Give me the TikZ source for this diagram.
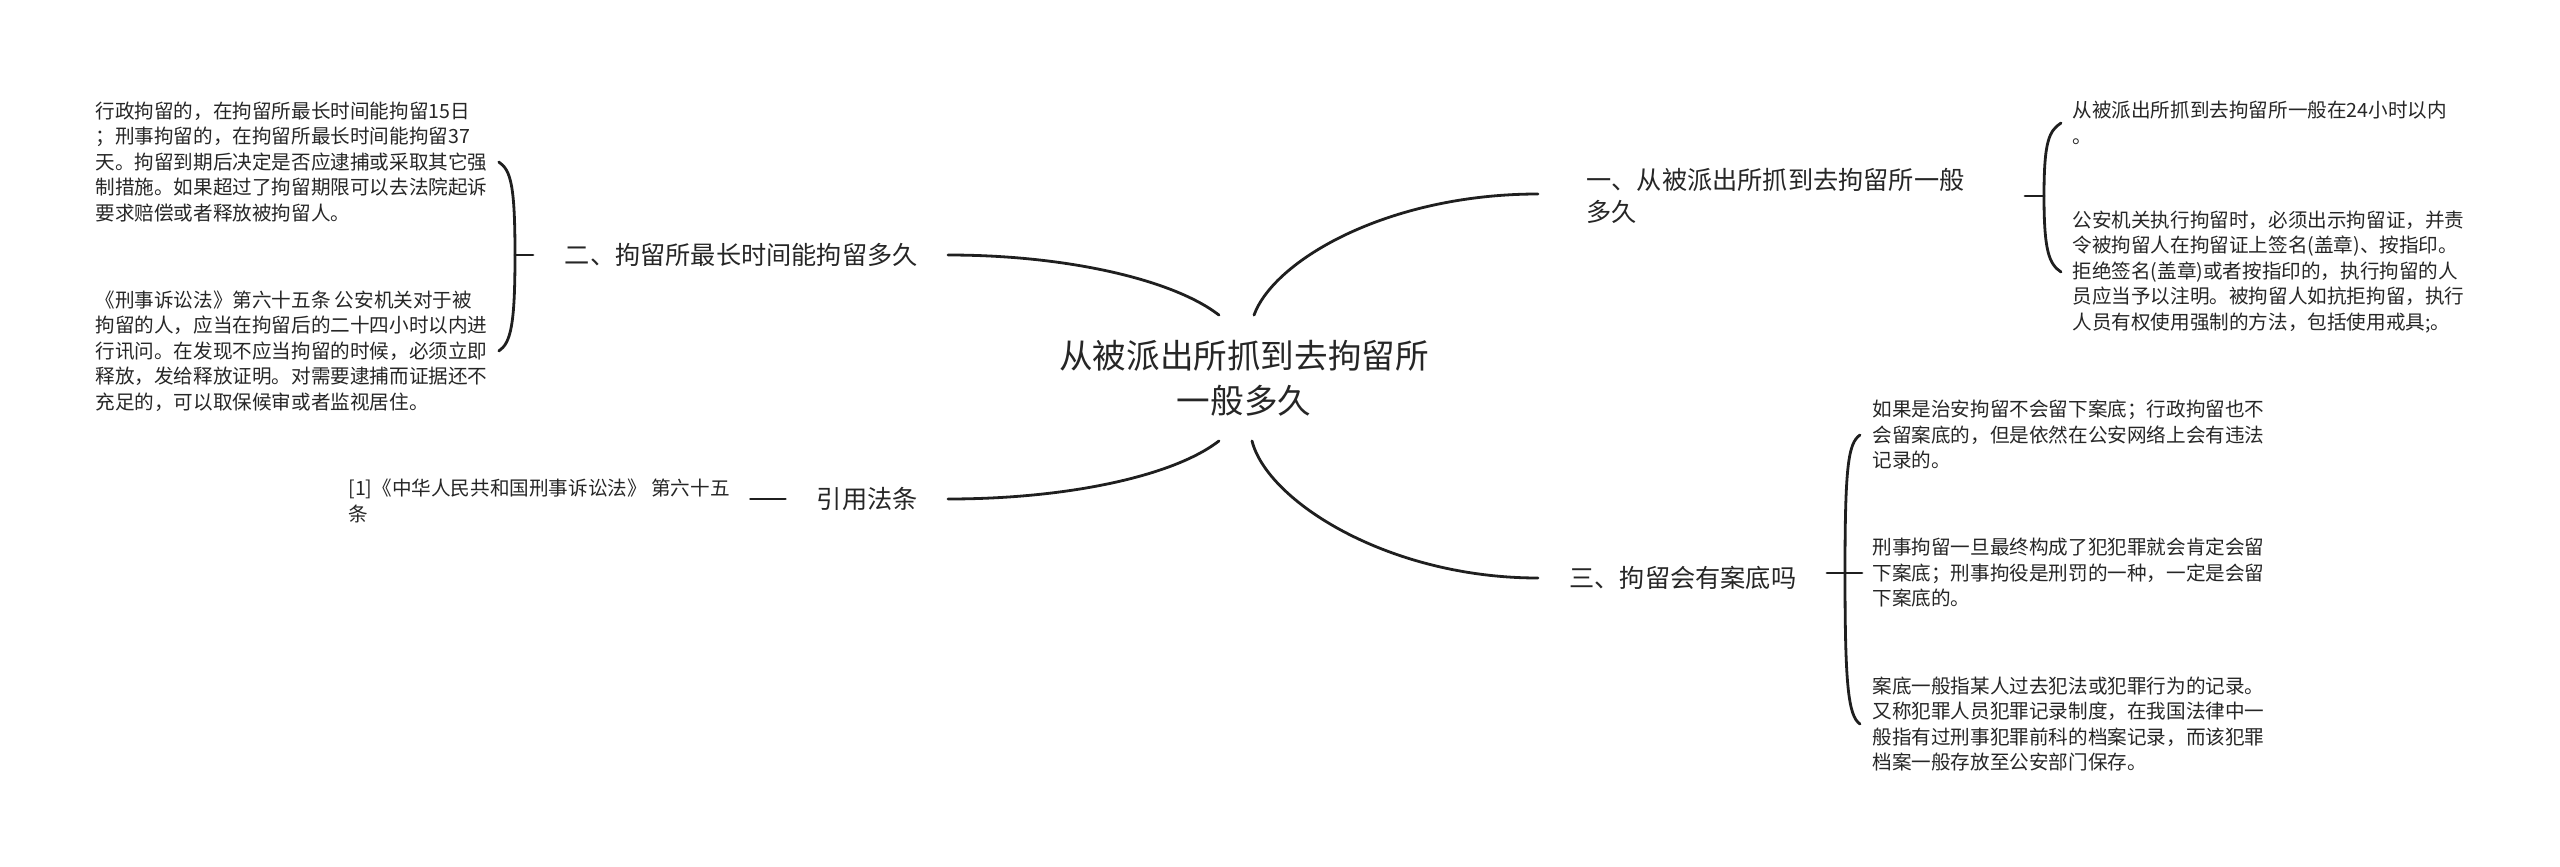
\documentclass[tikz,border=0pt]{standalone}
\usepackage{fontspec}
\setmainfont{Noto Sans CJK SC}
\tikzstyle{rootnode} = [inner sep=0pt, minimum height=62.5pt, align=center, text=black!85, font=\fontsize{16.8pt}{22.5pt}\selectfont]
\tikzstyle{topic} = [inner sep=0pt, align=left, text=black!85, font=\fontsize{12.6pt}{16pt}\selectfont]
\tikzstyle{detail} = [inner sep=0pt, align=left, text=black!85, font=\fontsize{9.8pt}{12.75pt}\selectfont]
\tikzstyle{link} = [line width=1.4pt, draw=black!88, line cap=round]

\begin{document}
\begin{tikzpicture}[x=0.5pt, y=-0.5pt]
\useasboundingbox (0,0) rectangle (2560,867);

\node (root) [rootnode] at (1244,378) {从被派出所抓到去拘留所\\一般多久};

\coordinate (e1) at (1538,194);
\coordinate (e2) at (948,255);
\coordinate (e3) at (1538,578);
\coordinate (e4) at (948,499);

\node (br1) [topic, anchor=west] at ([xshift=24pt,yshift=-1pt]e1) {一、从被派出所抓到去拘留所一般\\多久};
\node (br2) [topic, anchor=east] at ([xshift=-15pt]e2) {二、拘留所最长时间能拘留多久};
\node (br3) [topic, anchor=west] at ([xshift=15.5pt]e3) {三、拘留会有案底吗};
\node (br4) [topic, anchor=east] at ([xshift=-15pt]e4) {引用法条};

\node (lf1a) [detail, anchor=west] at (2072,123) {从被派出所抓到去拘留所一般在24小时以内\\。};
\node (lf1b) [detail, anchor=west] at (2072,272) {公安机关执行拘留时，必须出示拘留证，并责\\令被拘留人在拘留证上签名(盖章)、按指印。\\拒绝签名(盖章)或者按指印的，执行拘留的人\\员应当予以注明。被拘留人如抗拒拘留，执行\\人员有权使用强制的方法，包括使用戒具;。};
\node (lf2a) [detail, anchor=west] at (95,162) {行政拘留的，在拘留所最长时间能拘留15日\\；刑事拘留的，在拘留所最长时间能拘留37\\天。拘留到期后决定是否应逮捕或采取其它强\\制措施。如果超过了拘留期限可以去法院起诉\\要求赔偿或者释放被拘留人。};
\node (lf2b) [detail, anchor=west] at (95,351) {《刑事诉讼法》第六十五条 公安机关对于被\\拘留的人，应当在拘留后的二十四小时以内进\\行讯问。在发现不应当拘留的时候，必须立即\\释放，发给释放证明。对需要逮捕而证据还不\\充足的，可以取保候审或者监视居住。};
\node (lf3a) [detail, anchor=west] at (1872,435) {如果是治安拘留不会留下案底；行政拘留也不\\会留案底的，但是依然在公安网络上会有违法\\记录的。};
\node (lf3b) [detail, anchor=west] at (1872,573) {刑事拘留一旦最终构成了犯犯罪就会肯定会留\\下案底；刑事拘役是刑罚的一种，一定是会留\\下案底的。};
\node (lf3c) [detail, anchor=west] at (1872,724) {案底一般指某人过去犯法或犯罪行为的记录。\\又称犯罪人员犯罪记录制度，在我国法律中一\\般指有过刑事犯罪前科的档案记录，而该犯罪\\档案一般存放至公安部门保存。};
\node (lf4) [detail, anchor=west] at (348,501) {[1]《中华人民共和国刑事诉讼法》 第六十五\\条};

\draw [link] ([xshift=5pt]root.north) .. controls +(20,-55) and +(-150,0) .. (e1);
\draw [link] ([xshift=-12.5pt]root.north) .. controls +(-45,-35) and +(120,0) .. (e2);
\draw [link] ([xshift=4pt]root.south) .. controls +(15,60) and +(-150,0) .. (e3);
\draw [link] ([xshift=-12.5pt]root.south) .. controls +(-45,35) and +(120,0) .. (e4);

\coordinate (m1) at (2044,196);
\coordinate (m2) at (515,255);
\coordinate (m3) at (1845,573);

\draw [link] (m1) -- ++(-19,0);
\draw [link] ([xshift=-5.5pt]lf1a.west) .. controls +(-12,8) and +(0,-55) .. (m1) .. controls +(0,55) and +(-12,-8) .. ([xshift=-5.5pt]lf1b.west);

\draw [link] (m2) -- ++(18,0);
\draw [link] ([xshift=5.5pt]lf2a.east) .. controls +(12,8) and +(0,-70) .. (m2) .. controls +(0,70) and +(12,-8) .. ([xshift=5.5pt]lf2b.east);

\draw [link] ([xshift=-9pt]m3) -- ([xshift=-5pt]lf3b.west);
\draw [link] ([xshift=-6pt]lf3a.west) .. controls +(-12,8) and +(0,-105) .. (m3) .. controls +(0,110) and +(-12,-8) .. ([xshift=-6pt]lf3c.west);

\draw [link] ([xshift=-15.5pt]br4.west) -- ++(-35,0);

\end{tikzpicture}
\end{document}
